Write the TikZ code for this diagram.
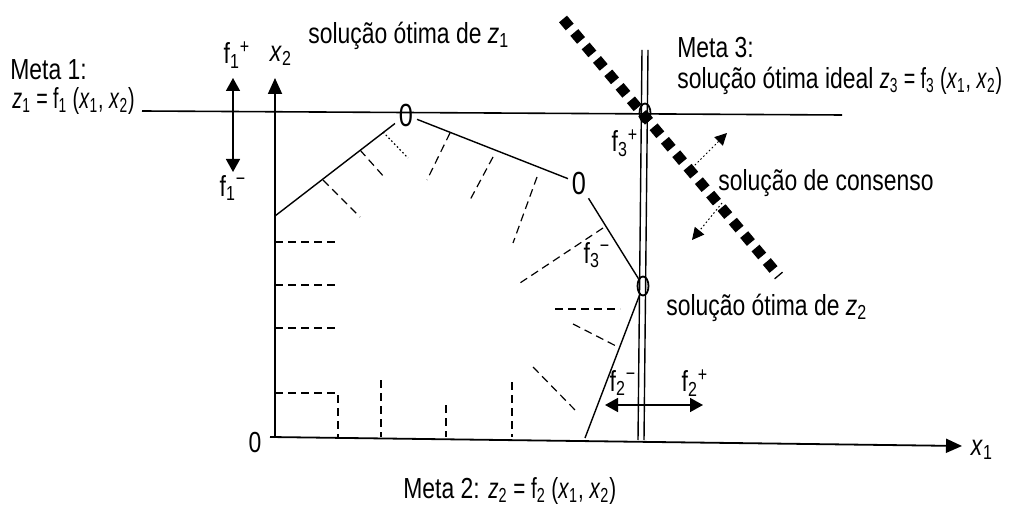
\documentclass[tikz,border=0pt]{standalone}
\usepackage{graphicx}
\usepackage{fontspec}
\setmainfont[FakeStretch=0.79]{Liberation Sans}
\usetikzlibrary{arrows.meta,shapes.geometric}
\newcommand\vz[1]{\textit{z}\textsubscript{#1}}
\newcommand\vx[1]{\textit{x}\textsubscript{#1}}
\newcommand\ff[1]{f\textsubscript{#1}}
\newcommand\fpm[2]{f\textsubscript{#1}\textsuperscript{#2}}
\newcommand\formula[2][0.86]{\scalebox{#1}[1]{#2}}
\begin{document}
\begin{tikzpicture}[x=0.5pt,y=-0.5pt,
  lbl/.style={inner sep=0pt,font=\fontsize{14.5}{17}\selectfont},
  thinline/.style={line width=0.7pt},
  goal/.style={line width=0.8pt},
  axis/.style={line width=0.9pt,-{Triangle[length=8pt,width=7pt]}},
  hatch/.style={line width=0.6pt,dash pattern=on 4pt off 2.5pt},
  dotline/.style={line width=0.6pt,dash pattern=on 0.8pt off 1.2pt},
  vertex/.style={inner sep=0pt,outer sep=2pt,font=\fontsize{16}{18}\selectfont},
  ring/.style={draw,ellipse,line width=0.9pt,minimum width=5.5pt,minimum height=9.5pt,inner sep=0pt},
  consenso/.style={line width=5.2pt,dash pattern=on 5.2pt off 3.6pt},
  dblarrow/.style={line width=0.8pt,{Triangle[length=6.5pt,width=7pt]}-{Triangle[length=6.5pt,width=7pt]}},
  perp/.style={line width=0.5pt,dash pattern=on 0.8pt off 1.2pt,-{Triangle[length=6pt,width=6pt]}}]
\useasboundingbox (0,0) rectangle (1016,507);

% axes
\coordinate (O) at (275,438);
\coordinate (X2top) at (275,78);
\coordinate (X1start) at (270,437);
\coordinate (X1end) at (962,446);
\draw[axis] (O) -- (X2top);
\draw[axis] (X1start) -- (X1end);
\node[lbl] (x2lbl) at (281,56) {\vx{2}};
\node[lbl] (x1lbl) at (982,450) {\vx{1}};
\node[lbl] (zero) at (255,443) {0};

% goal 1 line
\coordinate (G1a) at (142,111);
\coordinate (G1b) at (842,115);
\draw[goal] (G1a) -- (G1b);

% vertical double line (goal 2)
\coordinate (Va1) at (642,50);
\coordinate (Va2) at (638,440);
\coordinate (Vb1) at (648,50);
\coordinate (Vb2) at (644,440);
\draw[thinline] (Va1) -- (Va2);
\draw[thinline] (Vb1) -- (Vb2);

% feasible region boundary
\coordinate (P0) at (275,216);
\node[vertex] (V1) at (406,115) {0};
\node[vertex] (V2) at (579,183) {0};
\node[ring] (V3) at (643,286) {};
\node[ring] (V0) at (645,113) {};
\coordinate (P4) at (585,438);
\draw[thinline] (P0) -- (V1);
\draw[thinline] (V1) -- (V2);
\draw[thinline] (V2) -- (V3);
\draw[thinline] (V3) -- (P4);

% hatch marks
\coordinate (h1a) at (383,132); \coordinate (h1b) at (408,158);
\draw[dotline] (h1a) -- (h1b);
\coordinate (h2a) at (360,150); \coordinate (h2b) at (385,178);
\draw[hatch] (h2a) -- (h2b);
\coordinate (h3a) at (323,180); \coordinate (h3b) at (360,217);
\draw[hatch] (h3a) -- (h3b);
\coordinate (h4a) at (450,133); \coordinate (h4b) at (427,180);
\draw[hatch] (h4a) -- (h4b);
\coordinate (h5a) at (493,157); \coordinate (h5b) at (470,200);
\draw[hatch] (h5a) -- (h5b);
\coordinate (h6a) at (537,177); \coordinate (h6b) at (513,243);
\draw[hatch] (h6a) -- (h6b);
\coordinate (h7a) at (603,228); \coordinate (h7b) at (520,283);
\draw[hatch] (h7a) -- (h7b);
\coordinate (h8a) at (275,242); \coordinate (h8b) at (339,242);
\draw[hatch] (h8a) -- (h8b);
\coordinate (h9a) at (275,285); \coordinate (h9b) at (339,285);
\draw[hatch] (h9a) -- (h9b);
\coordinate (h10a) at (275,328); \coordinate (h10b) at (339,328);
\draw[hatch] (h10a) -- (h10b);
\coordinate (h11a) at (275,393); \coordinate (h11b) at (338,393); \coordinate (h11c) at (338,437);
\draw[hatch] (h11a) -- (h11b) -- (h11c);
\coordinate (h12a) at (381,380); \coordinate (h12b) at (381,437);
\draw[hatch] (h12a) -- (h12b);
\coordinate (h13a) at (446,405); \coordinate (h13b) at (446,437);
\draw[hatch] (h13a) -- (h13b);
\coordinate (h14a) at (512,382); \coordinate (h14b) at (512,437);
\draw[hatch] (h14a) -- (h14b);
\coordinate (h15a) at (555,309); \coordinate (h15b) at (620,309);
\draw[hatch] (h15a) -- (h15b);
\coordinate (h16a) at (573,324); \coordinate (h16b) at (618,347);
\draw[hatch] (h16a) -- (h16b);
\coordinate (h17a) at (533,367); \coordinate (h17b) at (577,412);
\draw[hatch] (h17a) -- (h17b);

% consensus line
\coordinate (C1) at (563,19);
\coordinate (C2) at (779,276);
\draw[consenso] (C1) -- (C2);
\coordinate (pa1) at (692,168); \coordinate (pa2) at (727,133);
\draw[perp] (pa1) -- (pa2);
\coordinate (pb1) at (722,203); \coordinate (pb2) at (692,240);
\draw[perp] (pb1) -- (pb2);

% deviation arrows
\coordinate (f1top) at (233,78); \coordinate (f1bot) at (233,172);
\draw[dblarrow] (f1top) -- (f1bot);
\coordinate (f2l) at (605,405); \coordinate (f2r) at (703,405);
\draw[dblarrow] (f2l) -- (f2r);

% labels
\node[lbl,anchor=west] (meta1) at (10,70) {Meta 1:};
\node[lbl,anchor=west] (z1eq) at (12,101) {\formula{\vz{1} = \ff{1} (\vx{1}, \vx{2})}};
\node[lbl] (f1p) at (237,55) {\fpm{1}{+}};
\node[lbl] (f1m) at (233,188) {\fpm{1}{−}};
\node[lbl,anchor=west] (sol1) at (308,36) {solução ótima de \vz{1}};
\node[lbl,anchor=west] (meta3) at (677,48) {Meta 3:};
\node[lbl,anchor=west] (z3eq) at (677,81) {solução ótima ideal \formula{\vz{3} = \ff{3} (\vx{1}, \vx{2})}};
\node[lbl] (f3p) at (625,143) {\fpm{3}{+}};
\node[lbl] (f3m) at (597,255) {\fpm{3}{−}};
\node[lbl,anchor=west] (cons) at (718,183) {solução de consenso};
\node[lbl,anchor=west] (sol2) at (666,308) {solução ótima de \vz{2}};
\node[lbl] (f2m) at (623,383) {\fpm{2}{−}};
\node[lbl] (f2p) at (695,383) {\fpm{2}{+}};
\node[lbl,anchor=west] (meta2) at (403,491) {Meta 2: \formula[0.9]{\vz{2} = \ff{2} (\vx{1}, \vx{2})}};
\end{tikzpicture}
\end{document}
